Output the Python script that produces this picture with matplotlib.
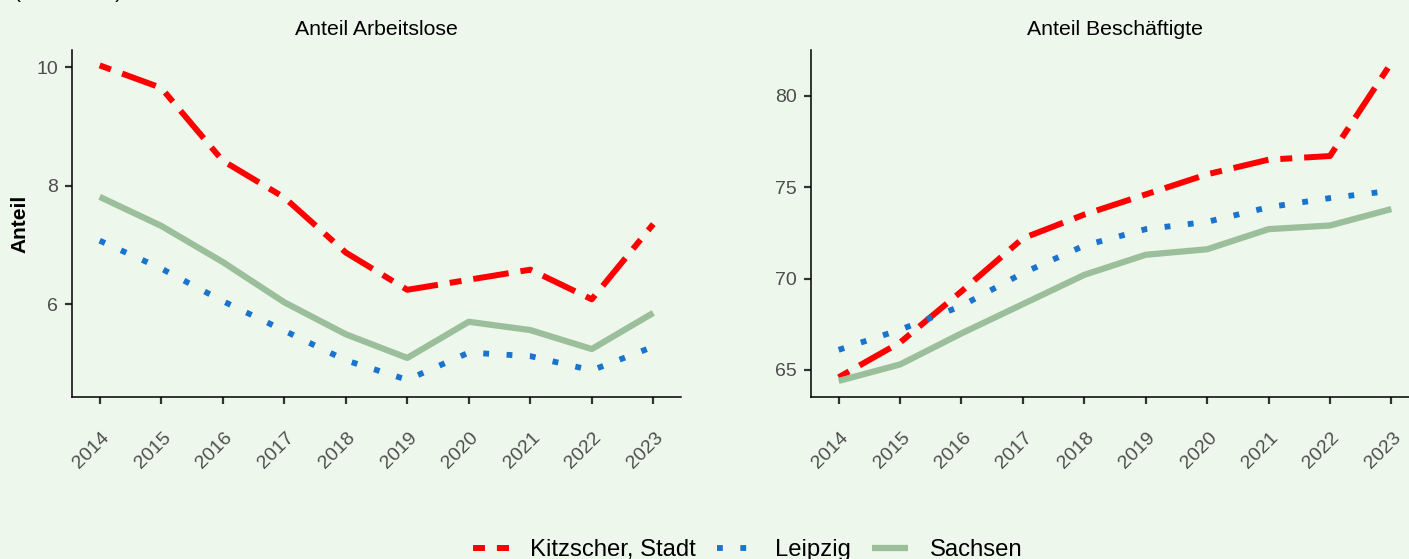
import numpy as np
import matplotlib
matplotlib.use("Agg")
import matplotlib.pyplot as plt
from matplotlib.lines import Line2D
from matplotlib.transforms import ScaledTranslation

plt.rcParams["font.family"] = ["Liberation Sans", "DejaVu Sans"]

# ============================================================
# DATA
# ============================================================

years = [2014, 2015, 2016, 2017, 2018, 2019, 2020, 2021, 2022, 2023]

arbeitslose_kitzscher = [10.03, 9.65, 8.42, 7.80, 6.87, 6.24, 6.41, 6.58, 6.08, 7.35]
arbeitslose_leipzig = [7.07, 6.60, 6.05, 5.55, 5.05, 4.72, 5.18, 5.12, 4.88, 5.28]
arbeitslose_sachsen = [7.81, 7.32, 6.71, 6.03, 5.49, 5.09, 5.70, 5.56, 5.24, 5.85]

beschaeftigte_kitzscher = [64.6, 66.5, 69.3, 72.2, 73.5, 74.6, 75.7, 76.5, 76.7, 81.8]
beschaeftigte_leipzig = [66.1, 67.2, 68.5, 70.3, 71.8, 72.7, 73.1, 73.9, 74.4, 74.8]
beschaeftigte_sachsen = [64.4, 65.3, 67.0, 68.6, 70.2, 71.3, 71.6, 72.7, 72.9, 73.8]

series_names = ["Kitzscher, Stadt", "Leipzig", "Sachsen"]
panel_titles = ["Anteil Arbeitslose", "Anteil Beschäftigte"]

# ============================================================
# STYLE
# ============================================================

bg = "#EEF7EC"
colors = ["#FF0000", "#1874CD", "#9BBF9B"]
styles = [
    dict(linestyle=(0, (2, 2, 6, 2)), linewidth=4.3),
    dict(linestyle=(0, (1, 3)), linewidth=4.2),
    dict(linestyle="-", linewidth=4.5),
]

fig = plt.figure(figsize=(14.09, 5.59), dpi=100, facecolor=bg)

ax1 = fig.add_axes([0.0511, 0.2898, 0.4322, 0.6208])
ax2 = fig.add_axes([0.5756, 0.2898, 0.4315, 0.6208])

panels = [
    (ax1, [arbeitslose_kitzscher, arbeitslose_leipzig, arbeitslose_sachsen],
     (4.43, 10.29), [6, 8, 10]),
    (ax2, [beschaeftigte_kitzscher, beschaeftigte_leipzig, beschaeftigte_sachsen],
     (63.52, 82.5), [65, 70, 75, 80]),
]

for i, (ax, data, ylim, yticks) in enumerate(panels):
    ax.set_facecolor(bg)
    for vals, c, st in zip(data, colors, styles):
        ax.plot(years, vals, color=c, dash_capstyle="butt",
                solid_capstyle="butt", dash_joinstyle="round",
                solid_joinstyle="round", **st)

    ax.set_xlim(2013.55, 2023.45)
    ax.set_ylim(*ylim)
    ax.set_xticks(years)
    ax.set_xticklabels([str(y) for y in years])
    ax.set_yticks(yticks)

    for s in ["top", "right"]:
        ax.spines[s].set_visible(False)
    for s in ["left", "bottom"]:
        ax.spines[s].set_linewidth(1.1)
        ax.spines[s].set_color("black")

    ax.tick_params(axis="both", length=5, width=1.6, color="#333333",
                   labelcolor="#4D4D4D", labelsize=14)
    ax.tick_params(axis="y", pad=5)
    ax.tick_params(axis="x", pad=18)

    offset = ScaledTranslation(0.01, 0, fig.dpi_scale_trans)
    for lab in ax.get_xticklabels():
        lab.set_rotation(45)
        lab.set_ha("right")
        lab.set_va("top")
        lab.set_rotation_mode("anchor")
        lab.set_transform(lab.get_transform() + offset)

    ax.set_title(panel_titles[i], fontsize=15.3, color="black", pad=11)

ax1.set_ylabel("Anteil", fontsize=15, fontweight="bold", labelpad=5)

# clipped subtitle at the very top
fig.text(14 / 1409, 1 + 2.5 / 559, "(in Prozent)", fontsize=15,
         va="baseline", ha="left", color="black")

# ============================================================
# LEGEND
# ============================================================

handles = [Line2D([0], [0], color=c, dash_capstyle="butt", solid_capstyle="butt", **st)
           for c, st in zip(colors, styles)]

fig.legend(handles, series_names, loc="center",
           bbox_to_anchor=(747.5 / 1409, 1 - 550 / 559),
           ncol=3, frameon=False, fontsize=17.2, handlelength=1.5,
           handletextpad=0.9, columnspacing=0.9, borderaxespad=0)

fig.savefig("out.png", dpi=100, facecolor=bg)
